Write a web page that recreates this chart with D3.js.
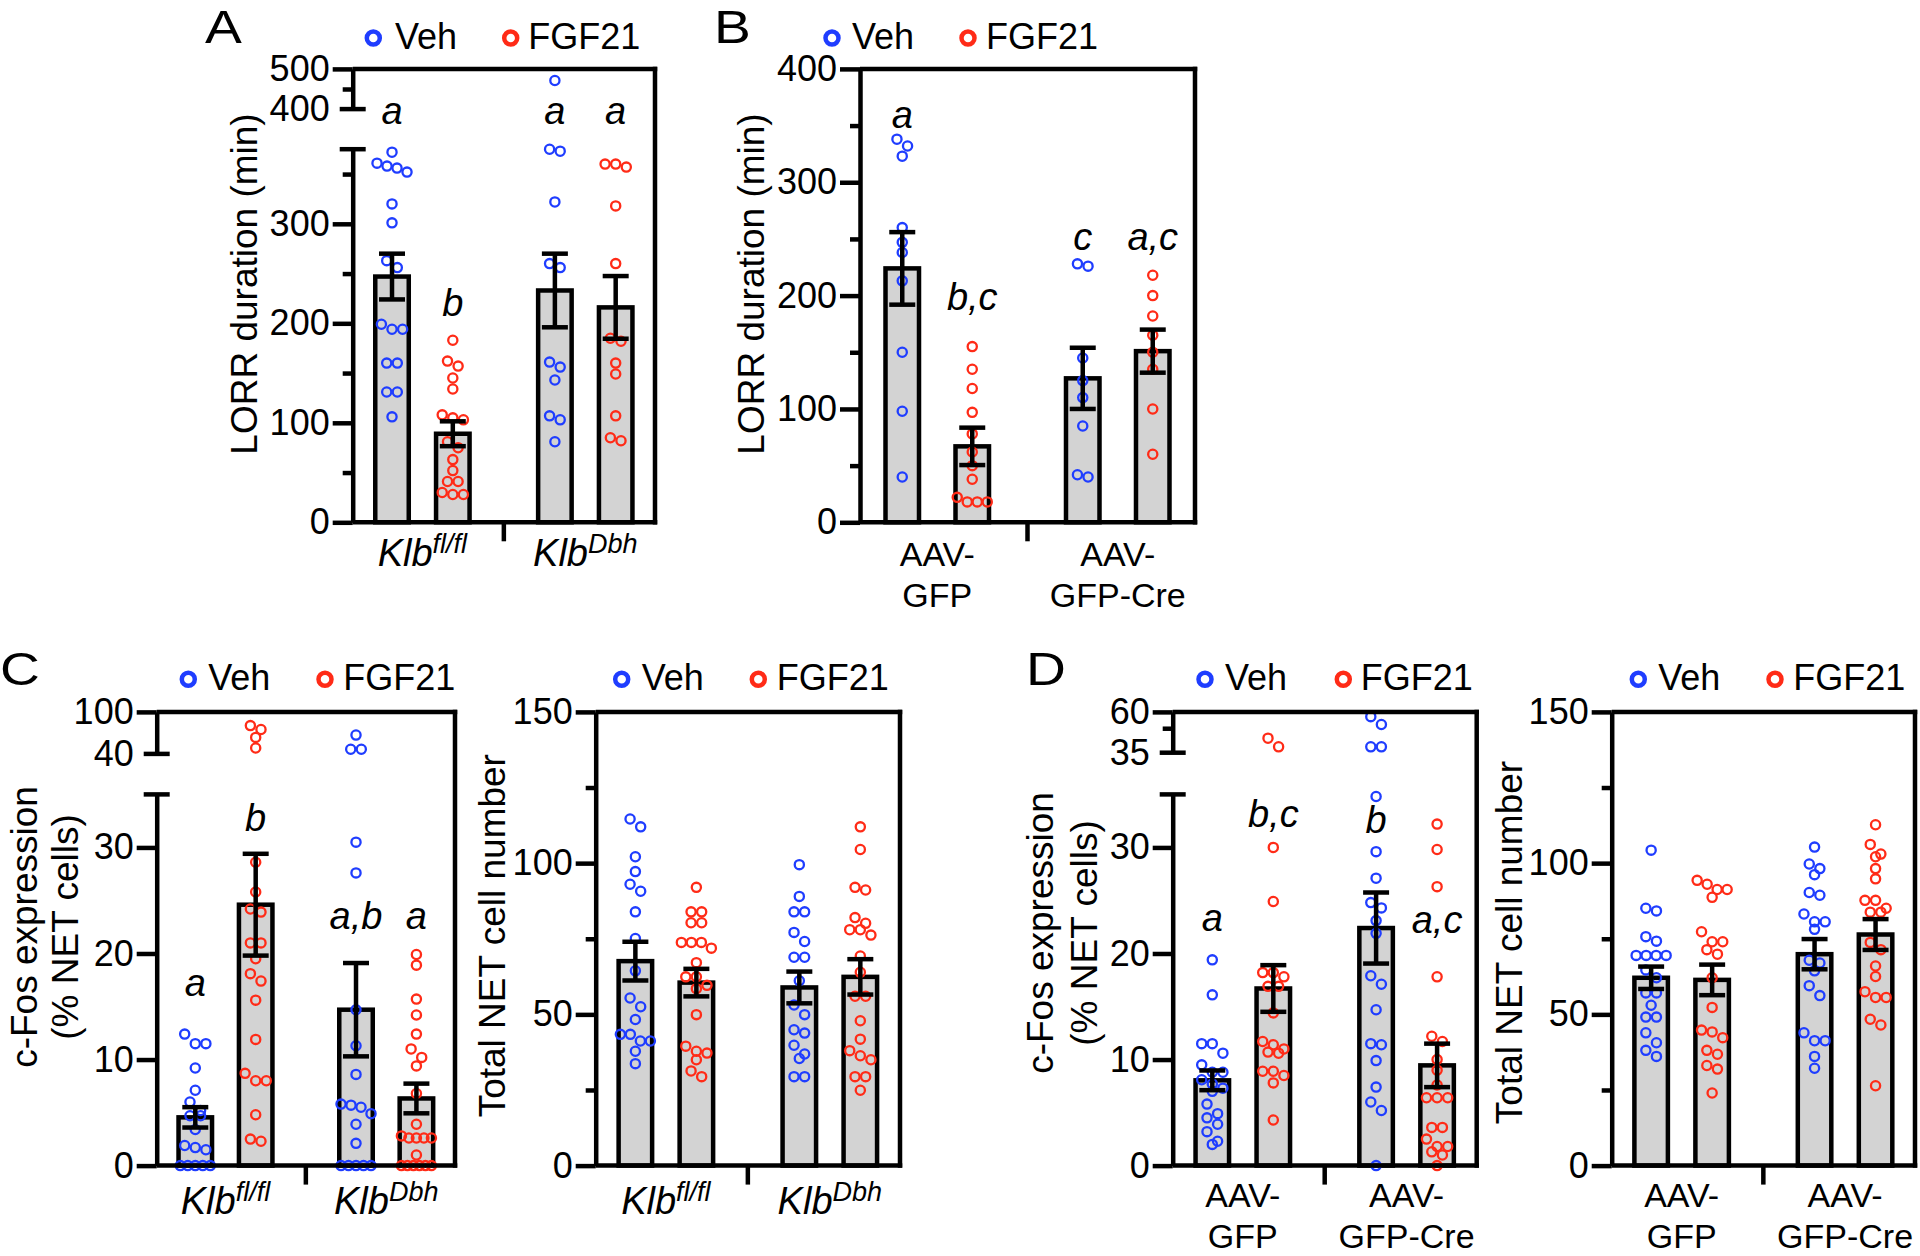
<!DOCTYPE html>
<html>
<head>
<meta charset="utf-8">
<script src="https://cdn.jsdelivr.net/npm/d3@7/dist/d3.min.js"></script>
<style>
html,body{margin:0;padding:0;background:#fff;}
svg{display:block;}
text{font-family:"Liberation Sans",Arial,Helvetica,sans-serif;fill:#000;}
</style>
</head>
<body>
<svg id="fig" width="1920" height="1256" viewBox="0 0 1920 1256"></svg>
<script>
// ======================= DATA =======================
const seriesNames = ["Veh", "FGF21"];
const klbGroups = ["fl/fl", "Dbh"];          // Klb superscripts
const aavGroups = ["GFP", "GFP-Cre"];        // second line after "AAV-"

// ---- A: LORR duration (min) – Klb fl/fl / Klb Dbh
const aVehFl  = [372, 361, 358, 356, 352, 320, 301, 263, 256, 199, 194, 194, 160, 160, 131, 131, 106];
const aFgfFl  = [183, 162, 157, 145, 134, 108, 105, 103, 81, 75, 63, 52, 41, 41, 30, 28, 28];
const aVehDbh = [471, 375, 373, 322, 260, 256, 161, 156, 143, 107, 103, 81];
const aFgfDbh = [360, 360, 357, 318, 260, 185, 182, 160, 149, 107, 85, 82];
const aMean = [247, 89, 233, 216];
const aSem  = [23, 12.5, 37, 31.5];
const aLetters = ["a", "b", "a", "a"];
const aTicksLow = [0, 100, 200, 300];
const aMinorLow = [50, 150, 250, 350];
const aTicksUp = [400, 500];
const aMinorUp = [450];

// ---- B: LORR duration (min) – AAV-GFP / AAV-GFP-Cre
const bVehGfp = [338, 332, 323, 260, 247, 238, 213, 150, 98, 40];
const bFgfGfp = [155, 135, 118, 97, 78, 62, 50, 38, 22, 18, 18, 18];
const bVehCre = [228, 226, 145, 125, 110, 85, 42, 40];
const bFgfCre = [218, 200, 182, 165, 150, 135, 100, 60];
const bMean = [224, 67, 127, 151];
const bSem  = [32, 16.5, 27, 19];
const bLetters = ["a", "b,c", "c", "a,c"];
const bTicks = [0, 100, 200, 300, 400];
const bMinor = [50, 150, 250, 350];

// ---- C left: c-Fos expression (% NET cells)
const cVehFl  = [12.4, 11.5, 11.5, 9.2, 7.1, 6.0, 5.2, 4.7, 4.7, 3.4, 1.9, 1.7, 1.5, 0, 0, 0, 0, 0];
const cFgfFl  = [80.4, 74.8, 63.6, 48.4, 28.6, 25.8, 24.2, 23.9, 21.0, 21.0, 19.5, 18.1, 17.4, 15.6, 11.9, 8.7, 8.0, 8.0, 4.8, 2.5, 2.3];
const cVehDbh = [66.9, 46.7, 46.7, 30.5, 27.6, 14.7, 11.3, 8.6, 5.8, 5.7, 5.5, 4.9, 3.9, 2.1, 0, 0, 0, 0, 0];
const cFgfDbh = [19.9, 18.9, 15.7, 14.2, 12.4, 11.0, 10.2, 9.4, 6.8, 3.9, 2.8, 2.6, 2.6, 2.6, 2.6, 1.0, 0, 0, 0, 0, 0, 0];
const cMean = [4.55, 24.6, 14.7, 6.33];
const cSem  = [0.96, 4.8, 4.4, 1.4];
const cLetters = ["a", "b", "a,b", "a"];
const cTicksLow = [0, 10, 20, 30];
const cTicksUp = [40, 100];

// ---- C right: Total NET cell number
const crVehFl  = [114.6, 112, 102.1, 97.2, 93, 90.7, 83.9, 75.1, 64.4, 55.4, 52.5, 48.3, 43.4, 43.4, 41.2, 41.2, 37.8, 33.7];
const crFgfFl  = [92, 83.9, 83.9, 80.3, 80.3, 73.8, 73.8, 73.8, 71.9, 67.1, 62.4, 62.4, 59.6, 58.5, 49.9, 39.5, 37.8, 37.2, 35, 31.3, 29.4];
const crVehDbh = [99.5, 89, 83.9, 83.9, 77.1, 74.1, 68.9, 68.9, 61.1, 53.1, 49.9, 44.9, 43.8, 39.8, 36.9, 35.4, 29.4, 29.4];
const crFgfDbh = [112, 104.5, 92, 91.1, 82, 80.1, 78, 78, 76.2, 69.3, 63.9, 56, 56, 47.9, 41.8, 38, 36.3, 35, 29.4, 29.4, 24.9];
const crMean = [67.6, 60.5, 58.9, 62.4];
const crSem  = [6.4, 4.55, 5.25, 5.85];
const netTicks = [0, 50, 100, 150];
const netMinor = [25, 75, 125];

// ---- D left: c-Fos expression (% NET cells)
const dVehGfp = [19.4, 16.1, 11.5, 11.5, 10.6, 9.5, 8.8, 8.8, 8.1, 7.7, 7.3, 7.0, 5.8, 4.9, 4.5, 3.9, 3.2, 2.3, 2.0];
const dFgfGfp = [43.9, 38.6, 30, 24.9, 18.2, 18.2, 17.8, 16.9, 16.9, 14.4, 11.7, 11.4, 11.0, 10.7, 10.6, 8.9, 8.9, 8.5, 7.8, 4.3];
const dVehCre = [57.1, 52.3, 38.6, 38.6, 34.8, 29.6, 27.1, 24.8, 24.3, 23.1, 21.9, 17.9, 17.1, 14.7, 11.5, 11.4, 9.9, 7.4, 6.0, 5.2, 0];
const dFgfCre = [32.2, 29.8, 26.3, 17.8, 12.2, 11.7, 10.0, 9.0, 7.6, 6.4, 6.4, 6.4, 3.6, 3.6, 2.5, 1.8, 1.8, 1.3, 1.0, 0];
const dMean = [8.04, 16.7, 22.4, 9.45];
const dSem  = [0.93, 2.2, 3.35, 2.05];
const dLetters = ["a", "b,c", "b", "a,c"];
const dTicksLow = [0, 10, 20, 30];
const dTicksUp = [35, 60];
const dMinorUp = [50];

// ---- D right: Total NET cell number
const drVehGfp = [104.3, 85.1, 84.2, 75.7, 74.2, 69.5, 69.5, 69.5, 69.5, 64.7, 62.1, 57.1, 57.1, 53, 49.1, 49.1, 43.9, 40.6, 38.1, 36.1];
const drFgfGfp = [94.3, 93, 91.3, 91.3, 88.7, 77.3, 74, 74, 71.4, 69.9, 62.1, 52.3, 44.8, 44.2, 42.3, 38.1, 36.8, 33.1, 31.9, 24];
const drVehCre = [105.3, 99.7, 98.2, 96.2, 90.3, 89.4, 83.2, 80.6, 80.6, 78.1, 67.9, 67, 64.4, 59.5, 56.2, 43.9, 41.3, 41.3, 36.1, 32.2];
const drFgfCre = [112.7, 106.2, 103, 102.1, 98.2, 94.8, 87.7, 87.7, 85.1, 83.8, 83.8, 73.8, 71.4, 66, 62.5, 57.5, 55.6, 55.6, 48.4, 46.5, 26.4];
const drMean = [62.1, 61.4, 69.9, 76.4];
const drSem  = [3.7, 5.05, 5.0, 5.1];

// ======================= STYLE / LAYOUT =======================
const COLOR = {Veh: "#1f3dff", FGF21: "#ff2b17"};
const SW = 4.5;          // thick line width
const BAR_W = 33.5;
const CAP_W = 26;
const PT_R = 4.6;

const svg = d3.select("#fig");

const panels = [
  { letter: "A", letterPos: [205, 43],
    axisX: 352.7, frameX: 655, top: 68.9, base: 522.3,
    lowDomain: [0, 375], lowTop: 149.2, upDomain: [400, 500], upBottom: 109.1,
    lowMajor: aTicksLow, lowMinor: aMinorLow, upTicks: aTicksUp, upMinor: aMinorUp,
    groups: klbGroups, labelType: "klb", labelY: [566],
    values: [aVehFl, aFgfFl, aVehDbh, aFgfDbh], means: aMean, sems: aSem,
    letters: aLetters, letterY: [124.4, 315.7, 124.4, 124.4],
    title: ["LORR duration (min)"], titleX: [256.7], titleY: 284,
    legendCX: [373.3, 510.7], legendTX: [395, 528.3], legendY: 49,
    pad: 0.428, barOff: 30.4 },
  { letter: "B", letterPos: [714, 43],
    axisX: 860, frameX: 1195, top: 68.9, base: 522.3,
    lowDomain: [0, 400], lowTop: 68.9,
    lowMajor: bTicks, lowMinor: bMinor,
    groups: aavGroups, labelType: "aav", labelY: [566, 607],
    values: [bVehGfp, bFgfGfp, bVehCre, bFgfCre], means: bMean, sems: bSem,
    letters: bLetters, letterY: [128, 310, 250, 250],
    title: ["LORR duration (min)"], titleX: [764], titleY: 284,
    legendCX: [832, 968], legendTX: [852, 986], legendY: 49,
    pad: 0.428, barOff: 35 },
  { letter: "C", letterPos: [0, 685],
    axisX: 156.7, frameX: 455, top: 711.9, base: 1165.6,
    lowDomain: [0, 35], lowTop: 794.4, upDomain: [40, 100], upBottom: 753.9,
    lowMajor: cTicksLow, lowMinor: [], upTicks: cTicksUp, upMinor: [],
    groups: klbGroups, labelType: "klb", labelY: [1213.6],
    values: [cVehFl, cFgfFl, cVehDbh, cFgfDbh], means: cMean, sems: cSem,
    letters: cLetters, letterY: [995.5, 830.5, 928.7, 928.7],
    title: ["c-Fos expression", "(% NET cells)"], titleX: [36.7, 78.3], titleY: 927,
    legendCX: [188.3, 325], legendTX: [208.3, 343.3], legendY: 690.3,
    pad: 0.428, barOff: 30.2 },
  { letter: null,
    axisX: 595.7, frameX: 900, top: 711.9, base: 1165.6,
    lowDomain: [0, 150], lowTop: 711.9,
    lowMajor: netTicks, lowMinor: netMinor,
    groups: klbGroups, labelType: "klb", labelY: [1213.6],
    values: [crVehFl, crFgfFl, crVehDbh, crFgfDbh], means: crMean, sems: crSem,
    letters: null,
    title: ["Total NET cell number"], titleX: [505], titleY: 935.7,
    legendCX: [621.7, 758.3], legendTX: [641.7, 776.7], legendY: 690.3,
    pad: 0.428, barOff: 30.5 },
  { letter: "D", letterPos: [1026, 685],
    axisX: 1172.7, frameX: 1476.7, top: 711.9, base: 1165.6,
    lowDomain: [0, 35], lowTop: 794.4, upDomain: [35, 60], upBottom: 752.7,
    lowMajor: dTicksLow, lowMinor: [], upTicks: dTicksUp, upMinor: dMinorUp,
    groups: aavGroups, labelType: "aav", labelY: [1207, 1248],
    values: [dVehGfp, dFgfGfp, dVehCre, dFgfCre], means: dMean, sems: dSem,
    letters: dLetters, letterY: [930.7, 826.6, 832.5, 932.7],
    title: ["c-Fos expression", "(% NET cells)"], titleX: [1053.3, 1096.7], titleY: 933,
    legendCX: [1205, 1343.3], legendTX: [1225, 1360.7], legendY: 690.3,
    pad: 0.428, barOff: 30.5 },
  { letter: null,
    axisX: 1611.7, frameX: 1915, top: 711.9, base: 1165.6,
    lowDomain: [0, 150], lowTop: 711.9,
    lowMajor: netTicks, lowMinor: netMinor,
    groups: aavGroups, labelType: "aav", labelY: [1207, 1248],
    values: [drVehGfp, drFgfGfp, drVehCre, drFgfCre], means: drMean, sems: drSem,
    letters: null,
    title: ["Total NET cell number"], titleX: [1521.7], titleY: 942.5,
    legendCX: [1638.3, 1775], legendTX: [1658.3, 1793.3], legendY: 690.3,
    pad: 0.428, barOff: 30.5 }
];

// GraphPad-like scatter: points of similar height share a row, spread symmetrically
function swarm(values, y, cx) {
  const pts = values.map(v => ({v, y: y(v)})).sort((a, b) => a.y - b.y);
  const rows = [];
  let cur = null;
  pts.forEach(p => {
    if (cur && p.y - cur[0].y < 10) cur.push(p);
    else { cur = [p]; rows.push(cur); }
  });
  rows.forEach(r => {
    const n = r.length;
    const sp = n > 1 ? Math.min(10.6, 30 / (n - 1)) : 0;
    r.forEach((p, i) => { p.x = cx + (i - (n - 1) / 2) * sp; });
  });
  return pts;
}

function styleAxis(sel) {
  sel.attr("font-size", 36).attr("font-family", '"Liberation Sans", Arial, sans-serif');
  sel.selectAll("path.domain").attr("stroke-width", SW).attr("stroke", "#000");
  sel.selectAll(".tick line").attr("stroke-width", SW).attr("stroke", "#000");
  sel.selectAll(".tick text").attr("fill", "#000");
}

function drawPanel(P) {
  const g = svg.append("g");
  const lo = d3.scaleLinear().domain(P.lowDomain).range([P.base, P.lowTop]);
  const up = P.upDomain ? d3.scaleLinear().domain(P.upDomain).range([P.upBottom, P.top]) : null;
  const y = v => (up && v > P.lowDomain[1]) ? up(v) : lo(v);
  const gx = d3.scalePoint().domain(P.groups).range([P.axisX, P.frameX]).padding(P.pad);
  const sx = d3.scalePoint().domain(seriesNames).range([-P.barOff, P.barOff]);

  const bars = [];
  P.groups.forEach((grp, gi) => seriesNames.forEach((s, si) => {
    const k = gi * 2 + si;
    bars.push({group: grp, series: s, values: P.values[k], mean: P.means[k], sem: P.sems[k],
               letter: P.letters ? P.letters[k] : null, ly: P.letterY ? P.letterY[k] : null,
               cx: gx(grp) + sx(s)});
  }));

  // bars
  g.append("g").selectAll("rect").data(bars).join("rect")
    .attr("x", d => d.cx - BAR_W / 2).attr("width", BAR_W)
    .attr("y", d => y(d.mean)).attr("height", d => P.base - y(d.mean))
    .attr("fill", "#d3d3d3").attr("stroke", "#000").attr("stroke-width", SW);

  // individual points
  bars.forEach(b => {
    g.append("g").selectAll("circle").data(swarm(b.values, y, b.cx)).join("circle")
      .attr("cx", d => d.x).attr("cy", d => d.y).attr("r", PT_R)
      .attr("fill", "none").attr("stroke", COLOR[b.series]).attr("stroke-width", 2.3);
  });

  // error bars (mean ± SEM)
  const eb = g.append("g").selectAll("g").data(bars).join("g")
    .attr("stroke", "#000").attr("stroke-width", SW);
  eb.append("line").attr("x1", d => d.cx).attr("x2", d => d.cx)
    .attr("y1", d => y(d.mean + d.sem)).attr("y2", d => y(d.mean - d.sem));
  eb.append("line").attr("x1", d => d.cx - CAP_W / 2).attr("x2", d => d.cx + CAP_W / 2)
    .attr("y1", d => y(d.mean + d.sem)).attr("y2", d => y(d.mean + d.sem));
  eb.append("line").attr("x1", d => d.cx - CAP_W / 2).attr("x2", d => d.cx + CAP_W / 2)
    .attr("y1", d => y(d.mean - d.sem)).attr("y2", d => y(d.mean - d.sem));

  // y axis – lower (or only) segment
  const ax = g.append("g").attr("transform", `translate(${P.axisX},0)`);
  ax.append("g").call(d3.axisLeft(lo).tickValues(P.lowMajor).tickSize(20).tickSizeOuter(0)
      .tickPadding(3).tickFormat(d3.format("d"))).call(styleAxis);
  if (P.lowMinor.length) {
    const m = ax.append("g").call(d3.axisLeft(lo).tickValues(P.lowMinor).tickSize(10).tickFormat(""));
    m.call(styleAxis); m.select("path.domain").remove();
  }
  if (up) {
    const uMin = P.upTicks[0], others = P.upTicks.slice(1);
    ax.append("g").call(d3.axisLeft(up).tickValues(others).tickSize(20).tickSizeOuter(0)
        .tickPadding(3).tickFormat(d3.format("d"))).call(styleAxis);
    const bl = ax.append("g").call(d3.axisLeft(up).tickValues([uMin]).tickSize(0)
        .tickPadding(23).tickFormat(d3.format("d")));
    bl.call(styleAxis); bl.select("path.domain").remove();
    if (P.upMinor.length) {
      const um = ax.append("g").call(d3.axisLeft(up).tickValues(P.upMinor).tickSize(10).tickFormat(""));
      um.call(styleAxis); um.select("path.domain").remove();
    }
    // break marks
    [P.lowTop, P.upBottom].forEach(yy => {
      ax.append("line").attr("x1", -13).attr("x2", 13).attr("y1", yy).attr("y2", yy)
        .attr("stroke", "#000").attr("stroke-width", SW);
    });
  }

  // frame
  const fr = g.append("g").attr("stroke", "#000").attr("stroke-width", SW).attr("fill", "none");
  fr.append("line").attr("x1", P.axisX).attr("x2", P.frameX + SW / 2).attr("y1", P.base).attr("y2", P.base);
  fr.append("line").attr("x1", P.axisX).attr("x2", P.frameX + SW / 2).attr("y1", P.top).attr("y2", P.top);
  fr.append("line").attr("x1", P.frameX).attr("x2", P.frameX).attr("y1", P.top - SW / 2).attr("y2", P.base + SW / 2);
  const mid = (P.axisX + P.frameX) / 2;
  fr.append("line").attr("x1", mid).attr("x2", mid).attr("y1", P.base).attr("y2", P.base + 19);

  // group labels
  P.groups.forEach(grp => {
    const cx = gx(grp);
    if (P.labelType === "klb") {
      const t = g.append("text").attr("x", cx).attr("y", P.labelY[0]).attr("text-anchor", "middle")
        .attr("font-size", 38).attr("font-style", "italic");
      t.append("tspan").text("Klb");
      t.append("tspan").attr("dy", -13).attr("font-size", 27).text(grp);
    } else {
      g.append("text").attr("x", cx).attr("y", P.labelY[0]).attr("text-anchor", "middle")
        .attr("font-size", 34).text("AAV-");
      g.append("text").attr("x", cx).attr("y", P.labelY[1]).attr("text-anchor", "middle")
        .attr("font-size", 34).text(grp);
    }
  });

  // significance letters
  if (P.letters) {
    g.append("g").selectAll("text").data(bars).join("text")
      .attr("x", d => d.cx).attr("y", d => d.ly).attr("text-anchor", "middle")
      .attr("font-size", 38).attr("font-style", "italic").text(d => d.letter);
  }

  // y title
  P.title.forEach((line, i) => {
    g.append("text").attr("transform", `translate(${P.titleX[i]},${P.titleY}) rotate(-90)`)
      .attr("text-anchor", "middle").attr("font-size", 37).text(line);
  });

  // legend
  seriesNames.forEach((s, i) => {
    g.append("circle").attr("cx", P.legendCX[i]).attr("cy", P.legendY - 11).attr("r", 6.5)
      .attr("fill", "none").attr("stroke", COLOR[s]).attr("stroke-width", 4.5);
    g.append("text").attr("x", P.legendTX[i]).attr("y", P.legendY).attr("font-size", 36).text(s);
  });

  // panel letter
  if (P.letter) {
    g.append("text").attr("transform", `translate(${P.letterPos[0]},${P.letterPos[1]}) scale(1.2,1)`)
      .attr("font-size", 46).text(P.letter);
  }
}

panels.forEach(drawPanel);
</script>
</body>
</html>
